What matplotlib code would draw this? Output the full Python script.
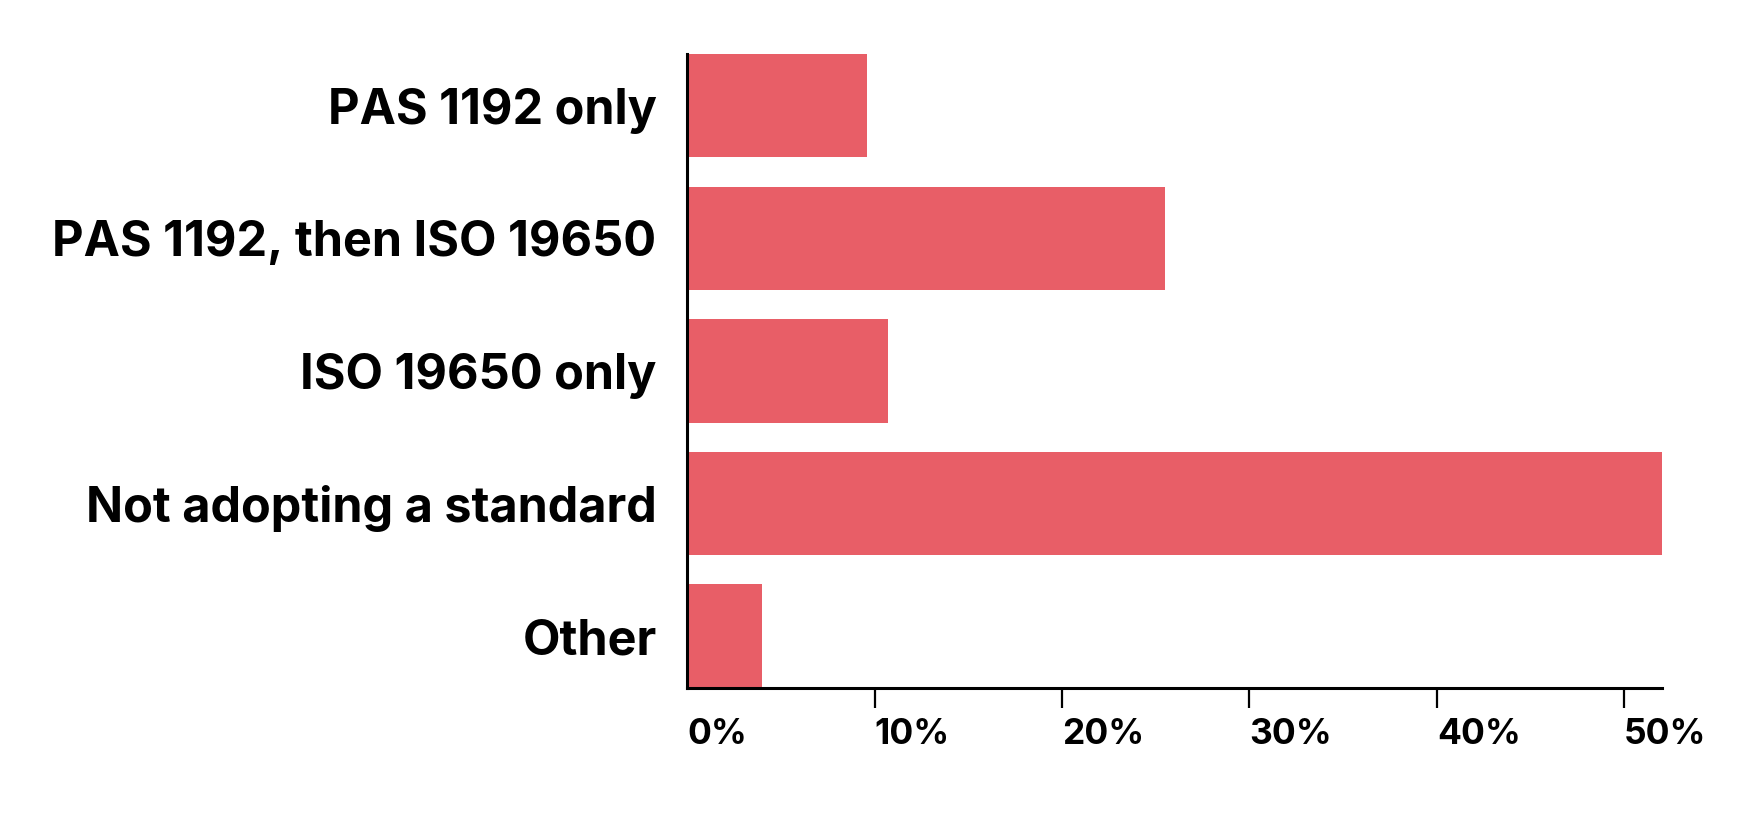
import matplotlib.pyplot as plt
from matplotlib.ticker import FixedLocator

categories = ['PAS 1192 only', 'PAS 1192, then ISO 19650', 'ISO 19650 only',
              'Not adopting a standard', 'Other']
values = [9.6, 25.5, 10.7, 52.0, 4.0]
ticks = [0, 10, 20, 30, 40, 50]
tick_labels = ['0%', '10%', '20%', '30%', '40%', '50%']

plt.rcParams['font.family'] = ['Inter', 'DejaVu Sans']
plt.rcParams['font.weight'] = 'bold'

fig = plt.figure(figsize=(17.64, 8.18), dpi=100)
ax = fig.add_axes([0.3895, 0.159, 0.5525, 0.775])

pos = list(range(len(categories)))
ax.barh(pos, values, height=0.78, color='#E85E67')

ax.set_ylim(len(categories) - 1 + 0.39, -0.39)
ax.set_xlim(0, 52)

ax.set_yticks(pos)
ax.set_yticklabels(categories, fontsize=35, fontweight='bold')
ax.tick_params(axis='y', length=0, pad=22)

ax.xaxis.set_major_locator(FixedLocator(ticks))
ax.set_xticklabels(tick_labels, fontsize=25.5, fontweight='bold', ha='left')
ax.tick_params(axis='x', length=14.5, width=1.6, pad=7, color='black')
# no tick mark under the corner at 0%
ax.xaxis.get_major_ticks()[0].tick1line.set_visible(False)

for s in ['top', 'right']:
    ax.spines[s].set_visible(False)
for s in ['left', 'bottom']:
    ax.spines[s].set_linewidth(2.2)
    ax.spines[s].set_color('black')

fig.savefig('out.png', dpi=100)
